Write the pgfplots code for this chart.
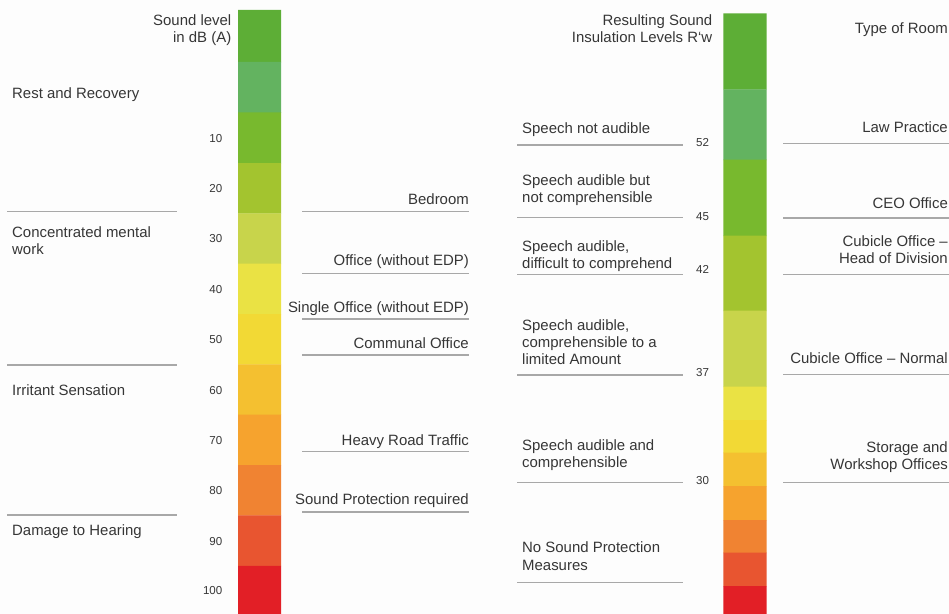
\documentclass[border=0pt]{standalone}
\usepackage{fontspec}
\setmainfont{Liberation Sans}
\usepackage{pgfplots}
\pgfplotsset{compat=1.18}
\definecolor{c1}{HTML}{5DAE36}
\definecolor{c2}{HTML}{63B360}
\definecolor{c3}{HTML}{78B92E}
\definecolor{c4}{HTML}{A3C42F}
\definecolor{c5}{HTML}{C8D44B}
\definecolor{c6}{HTML}{EAE244}
\definecolor{c7}{HTML}{F2D935}
\definecolor{c8}{HTML}{F4C030}
\definecolor{c9}{HTML}{F6A32E}
\definecolor{c10}{HTML}{F08332}
\definecolor{c11}{HTML}{E85530}
\definecolor{c12}{HTML}{E21F26}
\definecolor{tc}{HTML}{363636}
\definecolor{lc}{HTML}{A8A8A8}
\definecolor{bg}{HTML}{FDFDFD}
% segment: x0, x1, ytop, ybottom, colour
\newcommand{\seg}[5]{\addplot[fill=#5,draw=none] coordinates {(#1,#3) (#2,#3) (#2,#4) (#1,#4) (#1,#3)};}
% rule: x0, x1, y
\newcommand{\hl}[3]{\addplot[lc,line width=1.5bp] coordinates {(#1,#3) (#2,#3)};}
\newcommand{\lab}[4]{\node[anchor=#1,inner sep=0pt,font=\fontsize{15}{17}\selectfont,text=tc] at (axis cs:#2,#3) {#4};}
\newcommand{\num}[4]{\node[anchor=#1,inner sep=0pt,font=\fontsize{11.6}{13}\selectfont,text=tc] at (axis cs:#2,#3) {#4};}
\begin{document}
\begin{tikzpicture}
\fill[bg] (0,0) rectangle (949bp,614bp);
\begin{axis}[
  at={(0,0)}, anchor=south west,
  width=949bp, height=614bp, scale only axis,
  xmin=0, xmax=949, ymin=0, ymax=614, y dir=reverse,
  hide axis, clip=false, enlargelimits=false]
% left bar: sound level in dB(A), segments from -10 to 100 dB
\seg{238}{281}{10}{62.3}{c1}
\seg{238}{281}{62}{112.8}{c2}
\seg{238}{281}{112.5}{163.3}{c3}
\seg{238}{281}{163}{213.6}{c4}
\seg{238}{281}{213.3}{264}{c5}
\seg{238}{281}{263.7}{314.3}{c6}
\seg{238}{281}{314}{364.6}{c7}
\seg{238}{281}{364.3}{414.9}{c8}
\seg{238}{281}{414.6}{465.3}{c9}
\seg{238}{281}{465}{515.7}{c10}
\seg{238}{281}{515.4}{566.1}{c11}
\seg{238}{281}{565.8}{614}{c12}
% right bar: resulting sound insulation levels
\seg{723.3}{766.7}{13.3}{89.6}{c1}
\seg{723.3}{766.7}{89.3}{160}{c2}
\seg{723.3}{766.7}{159.7}{236}{c3}
\seg{723.3}{766.7}{235.7}{311}{c4}
\seg{723.3}{766.7}{310.7}{387}{c5}
\seg{723.3}{766.7}{386.7}{420.3}{c6}
\seg{723.3}{766.7}{420}{453}{c7}
\seg{723.3}{766.7}{452.7}{486.3}{c8}
\seg{723.3}{766.7}{486}{520.3}{c9}
\seg{723.3}{766.7}{520}{553}{c10}
\seg{723.3}{766.7}{552.7}{586.3}{c11}
\seg{723.3}{766.7}{586}{614}{c12}
% rules
\hl{7}{177}{211.5}
\hl{7}{177}{365}
\hl{7}{177}{515}
\hl{302}{468.5}{211.5}
\hl{302}{468.5}{273.3}
\hl{302}{468.5}{319}
\hl{302}{468.5}{355}
\hl{302}{468.5}{451.5}
\hl{302}{468.5}{512}
\hl{517}{683}{145}
\hl{517}{683}{217.7}
\hl{517}{683}{274.5}
\hl{517}{683}{375}
\hl{517}{683}{482.7}
\hl{517}{683}{582.3}
\hl{783}{949}{143.3}
\hl{783}{949}{218}
\hl{783}{949}{274.3}
\hl{783}{949}{374.5}
\hl{783}{949}{482.7}
% left column
\lab{base west}{12}{98.5}{Rest and Recovery}
\lab{base west}{12}{237}{Concentrated mental}
\lab{base west}{12}{254.5}{work}
\lab{base west}{12}{395}{Irritant Sensation}
\lab{base west}{12}{535}{Damage to Hearing}
\lab{base east}{231.5}{26}{Sound level}
\lab{base east}{231.5}{42.5}{in dB (A)}
% dB ticks
\num{base east}{222.5}{142}{10}
\num{base east}{222.5}{192.5}{20}
\num{base east}{222.5}{242.7}{30}
\num{base east}{222.5}{293}{40}
\num{base east}{222.5}{343.5}{50}
\num{base east}{222.5}{394}{60}
\num{base east}{222.5}{444.3}{70}
\num{base east}{222.5}{494.7}{80}
\num{base east}{222.5}{545}{90}
\num{base east}{222.5}{594.5}{100}
% middle left
\lab{base east}{469}{204.5}{Bedroom}
\lab{base east}{469}{265.5}{Office (without EDP)}
\lab{base east}{469}{312.5}{Single Office (without EDP)}
\lab{base east}{469}{348}{Communal Office}
\lab{base east}{469}{445}{Heavy Road Traffic}
\lab{base east}{469}{504}{Sound Protection required}
% middle right
\lab{base east}{712.5}{25.7}{Resulting Sound}
\lab{base east}{712.5}{42.7}{Insulation Levels R‘w}
\lab{base west}{522}{133}{Speech not audible}
\lab{base west}{522}{185.5}{Speech audible but}
\lab{base west}{522}{202.5}{not comprehensible}
\lab{base west}{522}{251}{Speech audible,}
\lab{base west}{522}{268}{difficult to comprehend}
\lab{base west}{522}{330.7}{Speech audible,}
\lab{base west}{522}{347.7}{comprehensible to a}
\lab{base west}{522}{364.5}{limited Amount}
\lab{base west}{522}{450.7}{Speech audible and}
\lab{base west}{522}{467.7}{comprehensible}
\lab{base west}{522}{552.7}{No Sound Protection}
\lab{base west}{522}{570}{Measures}
\num{base west}{696}{146.5}{52}
\num{base west}{696}{220}{45}
\num{base west}{696}{273}{42}
\num{base west}{696}{376.5}{37}
\num{base west}{696}{484}{30}
% right column
\lab{base east}{948}{34}{Type of Room}
\lab{base east}{948}{132}{Law Practice}
\lab{base east}{948}{208}{CEO Office}
\lab{base east}{948}{246.5}{Cubicle Office \textendash}
\lab{base east}{948}{263}{Head of Division}
\lab{base east}{948}{363}{Cubicle Office \textendash{} Normal}
\lab{base east}{948}{452.5}{Storage and}
\lab{base east}{948}{469}{Workshop Offices}
\end{axis}
\pgfresetboundingbox
\path[use as bounding box] (0,0) rectangle (949bp,614bp);
\end{tikzpicture}
\end{document}
